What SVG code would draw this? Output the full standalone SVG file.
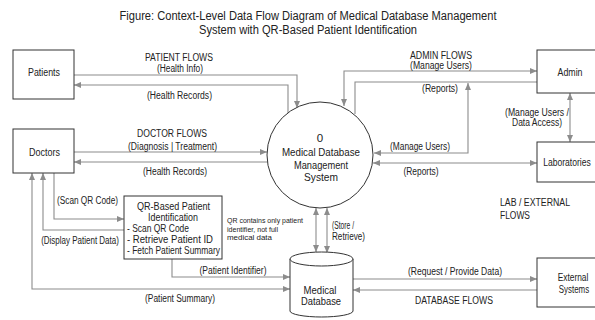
<svg xmlns="http://www.w3.org/2000/svg" width="595" height="320" viewBox="0 0 595 320">
<defs>
<marker id="ah" markerUnits="userSpaceOnUse" markerWidth="7" markerHeight="6" refX="7" refY="3" orient="auto-start-reverse">
<path d="M0,0 L7,3 L0,6 z" fill="#8c8c8c"/>
</marker>
</defs>
<style>
text{font-family:"Liberation Sans",Arial,sans-serif;fill:#222}
.t{font-size:12px;text-anchor:middle}
.n{font-size:11px;text-anchor:middle}
.c{font-size:11.5px;text-anchor:middle}
.l{font-size:10px;text-anchor:middle}
.ls{font-size:10px;text-anchor:start}
.s{font-size:7px;text-anchor:start}
.q{font-size:10.5px;text-anchor:start}
.qm{font-size:10.5px;text-anchor:middle}
.box{fill:#fff;stroke:#333;stroke-width:1}
.f{fill:none;stroke:#8c8c8c;stroke-width:1.1}
.a{marker-end:url(#ah)}
.b{marker-start:url(#ah);marker-end:url(#ah)}
</style>
<rect width="595" height="320" fill="#fff"/>
<g id="title">
<text class="t" x="308" y="20" textLength="377" lengthAdjust="spacingAndGlyphs">Figure: Context-Level Data Flow Diagram of Medical Database Management</text>
<text class="t" x="308" y="34" textLength="218" lengthAdjust="spacingAndGlyphs">System with QR-Based Patient Identification</text>
</g>
<g id="connectors">
<path class="f a" d="M74,75 H297 V108"/>
<path class="f a" d="M288,113 V85 H74"/>
<path class="f b" d="M537,71 H344 V106"/>
<path class="f" d="M355,114 V82 H537"/>
<path class="f b" d="M374,153 H468 V83"/>
<path class="f b" d="M373,163 H537"/>
<path class="f b" d="M570,93 V142"/>
<path class="f a" d="M74,152 H267"/>
<path class="f a" d="M268,162 H74"/>
<path class="f a" d="M54,173 V219 H124"/>
<path class="f a" d="M124,230 H43 V173"/>
<path class="f b" d="M290,289 H32 V173"/>
<path class="f a" d="M172,259 V277 H290"/>
<path class="f b" d="M316,208 V252"/>
<path class="f b" d="M327,208 V253"/>
<path class="f a" d="M353,279 H537"/>
<path class="f a" d="M537,290 H353"/>
<text class="l" x="179" y="61" textLength="68" lengthAdjust="spacingAndGlyphs">PATIENT FLOWS</text>
<text class="l" x="180" y="71.5" textLength="46" lengthAdjust="spacingAndGlyphs">(Health Info)</text>
<text class="l" x="179.5" y="98.5" textLength="65" lengthAdjust="spacingAndGlyphs">(Health Records)</text>
<text class="l" x="441" y="58.5" textLength="62" lengthAdjust="spacingAndGlyphs">ADMIN FLOWS</text>
<text class="l" x="441" y="69" textLength="62" lengthAdjust="spacingAndGlyphs">(Manage Users)</text>
<text class="l" x="440" y="92" textLength="36" lengthAdjust="spacingAndGlyphs">(Reports)</text>
<text class="l" x="172" y="136.5" textLength="70" lengthAdjust="spacingAndGlyphs">DOCTOR FLOWS</text>
<text class="l" x="172.5" y="149.5" textLength="89" lengthAdjust="spacingAndGlyphs">(Diagnosis | Treatment)</text>
<text class="l" x="175" y="174.5" textLength="64" lengthAdjust="spacingAndGlyphs">(Health Records)</text>
<text class="l" x="420" y="149.5" textLength="60" lengthAdjust="spacingAndGlyphs">(Manage Users)</text>
<text class="l" x="421" y="174.5" textLength="35" lengthAdjust="spacingAndGlyphs">(Reports)</text>
<text class="l" x="537" y="115.5" textLength="64" lengthAdjust="spacingAndGlyphs">(Manage Users /</text>
<text class="l" x="537" y="125.5" textLength="50" lengthAdjust="spacingAndGlyphs">Data Access)</text>
<text class="ls" x="500" y="205.5" textLength="70" lengthAdjust="spacingAndGlyphs">LAB / EXTERNAL</text>
<text class="ls" x="500" y="218.5" textLength="30" lengthAdjust="spacingAndGlyphs">FLOWS</text>
<text class="l" x="87.5" y="204" textLength="61" lengthAdjust="spacingAndGlyphs">(Scan QR Code)</text>
<text class="l" transform="translate(80,243.5) scale(0.8,1)" x="0" y="0">(Display Patient Data)</text>
<text class="l" x="233" y="273.5" textLength="67" lengthAdjust="spacingAndGlyphs">(Patient Identifier)</text>
<text class="l" x="180" y="301.5" textLength="70" lengthAdjust="spacingAndGlyphs">(Patient Summary)</text>
<text class="ls" x="332" y="228.5" textLength="22" lengthAdjust="spacingAndGlyphs">(Store /</text>
<text class="ls" x="332" y="239.5" textLength="33" lengthAdjust="spacingAndGlyphs">Retrieve)</text>
<text class="l" x="455" y="274.5" textLength="94" lengthAdjust="spacingAndGlyphs">(Request / Provide Data)</text>
<text class="l" x="454" y="303.5" textLength="78" lengthAdjust="spacingAndGlyphs">DATABASE FLOWS</text>
<text class="s" x="227" y="223" textLength="76" lengthAdjust="spacingAndGlyphs">QR contains only patient</text>
<text class="s" x="227" y="231.5" textLength="51" lengthAdjust="spacingAndGlyphs">identifier, not full</text>
<text class="s" x="227" y="240" textLength="45" lengthAdjust="spacingAndGlyphs">medical data</text>
</g>
<g id="patients">
<rect class="box" x="13" y="50" width="61" height="49"/>
<text class="n" x="44" y="76" textLength="32" lengthAdjust="spacingAndGlyphs">Patients</text>
</g>
<g id="doctors">
<rect class="box" x="13" y="129" width="61" height="44"/>
<text class="n" x="44.5" y="156" textLength="31" lengthAdjust="spacingAndGlyphs">Doctors</text>
</g>
<g id="admin">
<rect class="box" x="537" y="50" width="68" height="43"/>
<text class="n" x="570" y="76" textLength="25" lengthAdjust="spacingAndGlyphs">Admin</text>
</g>
<g id="laboratories">
<rect class="box" x="537" y="142" width="68" height="40"/>
<text class="n" transform="translate(567,166) scale(0.78,1)" x="0" y="0">Laboratories</text>
</g>
<g id="external">
<rect class="box" x="537" y="258" width="68" height="49"/>
<text class="n" transform="translate(573,281) scale(0.76,1)" x="0" y="0">External</text>
<text class="n" transform="translate(574,292.5) scale(0.72,1)" x="0" y="0">Systems</text>
</g>
<g id="system">
<circle cx="320" cy="155" r="53" fill="#fff" stroke="#333" stroke-width="1"/>
<text class="c" x="320" y="142">0</text>
<text class="c" x="321" y="156" textLength="78" lengthAdjust="spacingAndGlyphs">Medical Database</text>
<text class="c" x="321" y="169" textLength="54" lengthAdjust="spacingAndGlyphs">Management</text>
<text class="c" x="321" y="181" textLength="34" lengthAdjust="spacingAndGlyphs">System</text>
</g>
<g id="qr">
<rect class="box" x="124" y="196" width="98" height="63"/>
<text class="qm" x="173.5" y="210" textLength="73" lengthAdjust="spacingAndGlyphs">QR-Based Patient</text>
<text class="qm" x="173" y="221" textLength="50" lengthAdjust="spacingAndGlyphs">Identification</text>
<text class="q" x="127" y="232" textLength="62" lengthAdjust="spacingAndGlyphs">- Scan QR Code</text>
<text class="q" x="127" y="243" textLength="86" lengthAdjust="spacingAndGlyphs">- Retrieve Patient ID</text>
<text class="q" x="127" y="254" textLength="93" lengthAdjust="spacingAndGlyphs">- Fetch Patient Summary</text>
</g>
<g id="database">
<path d="M290,259 V311 A31.5,6 0 0 0 353,311 V259" fill="#fff" stroke="#333" stroke-width="1"/>
<ellipse cx="321.5" cy="259" rx="31.5" ry="7" fill="#fff" stroke="#333" stroke-width="1"/>
<text class="n" x="320" y="294" textLength="33" lengthAdjust="spacingAndGlyphs">Medical</text>
<text class="n" x="321" y="305" textLength="40" lengthAdjust="spacingAndGlyphs">Database</text>
</g>
</svg>
